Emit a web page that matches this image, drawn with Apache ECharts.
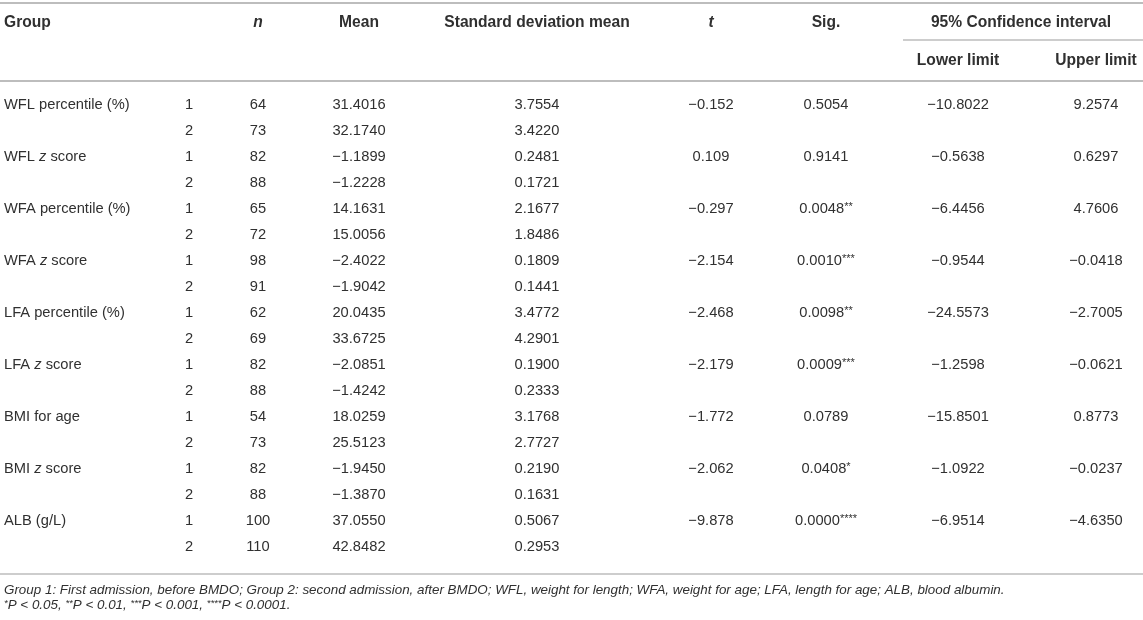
<!DOCTYPE html>
<html>
<head>
<meta charset="utf-8">
<script src="https://cdn.jsdelivr.net/npm/echarts@6/dist/echarts.min.js"></script>
<style>
  html, body { margin: 0; padding: 0; background: #fff; }
  #main { width: 1143px; height: 620px; }
</style>
</head>
<body>
<div id="main"></div>
<script>
// table data
var variables = ['WFL percentile (%)', 'WFL {i|z} score', 'WFA percentile (%)', 'WFA {i|z} score',
  'LFA percentile (%)', 'LFA {i|z} score', 'BMI for age', 'BMI {i|z} score', 'ALB (g/L)'];
var groupIds = [1, 2];
var nValues = [64, 73, 82, 88, 65, 72, 98, 91, 62, 69, 82, 88, 54, 73, 82, 88, 100, 110];
var meanValues = [31.4016, 32.1740, -1.1899, -1.2228, 14.1631, 15.0056, -2.4022, -1.9042, 20.0435,
  33.6725, -2.0851, -1.4242, 18.0259, 25.5123, -1.9450, -1.3870, 37.0550, 42.8482];
var sdValues = [3.7554, 3.4220, 0.2481, 0.1721, 2.1677, 1.8486, 0.1809, 0.1441, 3.4772,
  4.2901, 0.1900, 0.2333, 3.1768, 2.7727, 0.2190, 0.1631, 0.5067, 0.2953];
var tValues = [-0.152, 0.109, -0.297, -2.154, -2.468, -2.179, -1.772, -2.062, -9.878];
var sigValues = [0.5054, 0.9141, 0.0048, 0.0010, 0.0098, 0.0009, 0.0789, 0.0408, 0.0000];
var sigStars = ['', '', '**', '***', '**', '***', '', '*', '****'];
var lowerValues = [-10.8022, -0.5638, -6.4456, -0.9544, -24.5573, -1.2598, -15.8501, -1.0922, -6.9514];
var upperValues = [9.2574, 0.6297, 4.7606, -0.0418, -2.7005, -0.0621, 0.8773, -0.0237, -4.6350];

var rowIds = [];
for (var r = 0; r < variables.length * groupIds.length; r++) rowIds.push(r);

// layout
var FONT = '"Liberation Sans", Arial, Helvetica, sans-serif';
var TEXT = '#303030';
var RULE = '#bdbdbd';
var SIZE = 14.7;
var HEAD = 15.6;
var colX = { label: 4, group: 189, n: 258, mean: 359, sd: 537, t: 711, sig: 826, lower: 958, upper: 1096 };

function fmt(v, d) {
  return v.toFixed(d).replace('-', '\u2212');
}

var rich = {
  i: { fontStyle: 'italic', fontSize: SIZE, fontFamily: FONT, fill: TEXT },
  s: { fontSize: 11, fontFamily: FONT, fill: TEXT, verticalAlign: 'top' }
};

function cell(api, key, row, text, align) {
  var pt = api.coord([colX[key], row]);
  return {
    type: 'text',
    x: pt[0],
    y: pt[1],
    style: {
      text: text,
      rich: rich,
      fill: TEXT,
      fontSize: SIZE,
      fontFamily: FONT,
      align: align || 'center',
      verticalAlign: 'middle'
    }
  };
}

function renderRow(params, api) {
  var row = api.value(0);
  var v = Math.floor(row / 2);
  var g = row % 2;
  var kids = [
    cell(api, 'group', row, String(groupIds[g])),
    cell(api, 'n', row, String(nValues[row])),
    cell(api, 'mean', row, fmt(meanValues[row], 4)),
    cell(api, 'sd', row, fmt(sdValues[row], 4))
  ];
  if (g === 0) {
    kids.push(cell(api, 'label', row, variables[v], 'left'));
    kids.push(cell(api, 't', row, fmt(tValues[v], 3)));
    kids.push(cell(api, 'sig', row, fmt(sigValues[v], 4) + (sigStars[v] ? '{s|' + sigStars[v] + '}' : '')));
    kids.push(cell(api, 'lower', row, fmt(lowerValues[v], 4)));
    kids.push(cell(api, 'upper', row, fmt(upperValues[v], 4)));
  }
  return { type: 'group', children: kids };
}

function head(x, y, text, align, italic) {
  return {
    type: 'text', x: x, y: y, silent: true,
    style: {
      text: text, fill: TEXT, fontSize: HEAD, fontFamily: FONT, fontWeight: 'bold',
      fontStyle: italic ? 'italic' : 'normal',
      align: align || 'center', textAlign: align || 'center', verticalAlign: 'middle'
    }
  };
}

function rule(x1, x2, y, w) {
  return { type: 'line', silent: true, shape: { x1: x1, y1: y, x2: x2, y2: y }, style: { stroke: RULE, lineWidth: w } };
}

var noteRich = {
  s: { fontSize: 9.5, fontFamily: FONT, fontStyle: 'italic', fill: TEXT, verticalAlign: 'top' }
};

function note(y, text) {
  return {
    type: 'text', x: 4, y: y, silent: true,
    style: {
      text: text, rich: noteRich, fill: TEXT, fontSize: 13.4, fontFamily: FONT, fontStyle: 'italic',
      align: 'left', textAlign: 'left', verticalAlign: 'middle'
    }
  };
}

var chart = echarts.init(document.getElementById('main'));

var option = {
  animation: false,
  grid: { left: 0, right: 0, top: 92, height: 468 },
  xAxis: { type: 'value', min: 0, max: 1143, show: false },
  yAxis: { type: 'category', data: rowIds, inverse: true, show: false },
  graphic: [
    rule(0, 1143, 3, 2),
    rule(903, 1143, 40, 1.5),
    rule(0, 1143, 81, 2),
    rule(0, 1143, 574, 1.5),
    head(colX.label, 23, 'Group', 'left'),
    head(colX.n, 23, 'n', 'center', true),
    head(colX.mean, 23, 'Mean'),
    head(colX.sd, 23, 'Standard deviation mean'),
    head(colX.t, 23, 't', 'center', true),
    head(colX.sig, 23, 'Sig.'),
    head(1021, 23, '95% Confidence interval'),
    head(colX.lower, 61, 'Lower limit'),
    head(colX.upper, 61, 'Upper limit'),
    note(590, 'Group 1: First admission, before BMDO; Group 2: second admission, after BMDO; WFL, weight for length; WFA, weight for age; LFA, length for age; ALB, blood albumin.'),
    note(605, '{s|*}P < 0.05, {s|**}P < 0.01, {s|***}P < 0.001, {s|****}P < 0.0001.')
  ],
  series: [{
    type: 'custom',
    silent: true,
    renderItem: renderRow,
    encode: { y: 0 },
    data: rowIds.map(function (r) { return [r]; })
  }]
};

chart.setOption(option);
</script>
</body>
</html>
